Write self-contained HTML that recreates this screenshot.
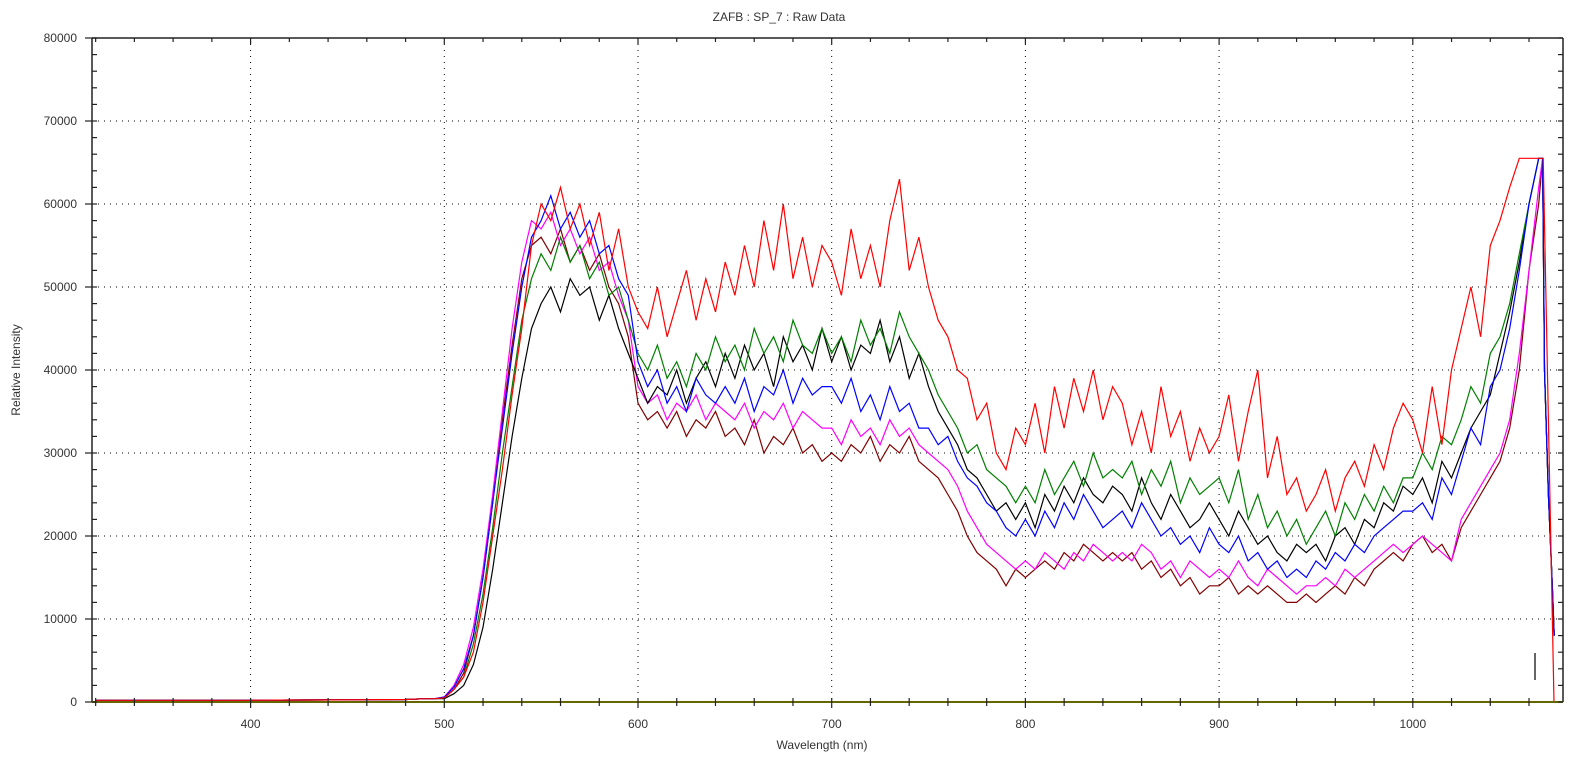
<!DOCTYPE html>
<html><head><meta charset="utf-8"><style>
html,body{margin:0;padding:0;background:#fff;}
svg{display:block;font-family:"Liberation Sans",sans-serif;}
</style></head><body>
<svg id="chart" width="1577" height="765" viewBox="0 0 1577 765" xmlns="http://www.w3.org/2000/svg">
<text x="779" y="21" font-size="12" text-anchor="middle" fill="#333">ZAFB : SP_7 : Raw Data</text>
<text x="822" y="749" font-size="12" text-anchor="middle" fill="#333">Wavelength (nm)</text>
<text x="20" y="370" font-size="12" text-anchor="middle" fill="#333" transform="rotate(-90 20 370)">Relative Intensity</text>
<g id="grid"></g>
<g id="series"></g>
<g id="axes"></g>
</svg>
<script>
const xTicks = [400,500,600,700,800,900,1000];
const yTicks = [0,10000,20000,30000,40000,50000,60000,70000,80000];
const baseW = [320,400,480,490,495];
const baseV = [0.2,0.2,0.3,0.4,0.4];
const red = [0.5,1.5,3,6,12,20,28,37,45,55, 60,58,62,57,60,55,59,52,57,50, 47,45,50,44,48,52,46,51,47,53, 49,55,50,58,52,60,51,56,50,55, 53,49,57,51,55,50,58,63,52,56, 50,46,44,40,39,34,36,30,28,33, 31,36,30,38,33,39,35,40,34,38, 36,31,35,30,38,32,35,29,33,30, 32,37,29,35,40,27,32,25,27,23, 25,28,23,27,29,26,31,28,33,36, 34,30,38,31,40,45,50,44,55,58, 62,65.5,65.5,65.5];
const black = [0.4,1,2,4.5,9,16,24,32,39,45, 48,50,47,51,49,50,46,49,45,42, 39,36,38,37,40,36,39,41,38,42, 39,43,40,42,38,44,41,43,40,45, 41,44,40,43,42,46,41,44,39,42, 38,35,33,31,28,27,25,23,24,22, 24,21,25,23,26,24,27,25,24,26, 25,23,27,24,22,25,23,21,22,24, 22,20,23,21,19,20,18,17,19,18, 19,17,20,21,19,22,21,24,23,26, 25,27,24,29,27,30,33,35,37,42, 47,53,60,65.5];
const green = [0.5,1.5,3,7,13,21,30,38,46,51, 54,52,56,53,55,51,53,49,50,46, 42,40,43,39,41,38,42,40,44,41, 43,40,45,42,44,41,46,43,42,45, 42,44,41,46,43,45,42,47,44,42, 40,37,35,33,30,31,28,27,26,24, 26,24,28,25,27,29,26,30,27,28, 27,29,25,28,26,29,24,27,25,26, 27,24,28,22,25,21,23,20,22,19, 21,23,20,24,22,25,23,26,24,27, 27,30,28,32,31,34,38,36,42,44, 48,54,60,65.5];
const blue = [0.6,1.8,4,8,15,24,33,42,50,56, 58,61,57,59,56,58,54,55,51,49, 41,38,40,36,38,35,39,37,36,38, 36,39,35,38,37,40,36,39,37,38, 38,36,39,35,37,34,38,35,36,33, 33,31,32,29,27,26,24,23,21,20, 22,20,23,21,24,22,25,23,21,22, 23,21,24,22,20,21,19,20,18,21, 19,18,20,17,18,16,17,15,16,15, 17,16,18,17,19,18,20,21,22,23, 23,24,22,27,25,29,33,31,38,40, 45,52,60,65.5];
const magenta = [0.6,2,4.5,9,16,25,35,45,53,58, 57,59,55,57,54,56,52,53,49,46, 38,36,37,34,36,35,37,34,36,35, 34,36,33,35,34,36,33,35,34,33, 33,31,34,32,33,31,34,32,33,31, 30,29,28,26,23,21,19,18,17,16, 17,16,18,17,16,18,17,19,18,17, 18,17,19,18,16,17,15,17,16,15, 16,15,17,15,14,16,15,14,13,14, 14,15,14,16,15,16,17,18,19,18, 19,20,19,18,17,22,24,26,28,30, 34,42,52,62];
const maroon = [0.5,1.5,3.5,8,15,24,34,43,51,55, 56,54,57,53,55,52,54,50,48,44, 36,34,35,33,35,32,34,33,35,32, 33,31,34,30,32,31,33,30,31,29, 30,29,31,30,32,29,31,30,32,29, 28,27,25,23,20,18,17,16,14,16, 15,16,17,16,18,17,19,18,17,18, 17,18,16,17,15,16,14,15,13,14, 14,15,13,14,13,14,13,12,12,13, 12,13,14,13,15,14,16,17,18,17, 19,20,18,19,17,21,23,25,27,29, 33,40,52,60];
const tailW = [1067,1068,1070,1072,1073];
const tailV = [65.5,40,25,14,8];
const redTailW = [1067.3,1072.9,1077];
const redTailV = [65.5,0,0];

const X0=92, X1=1563, Y0=702, Y1=38;
function sx(w){ return 444.3 + (w-500)*1.937; }
function sy(v){ return Y0 - v*8.3; }
const NS='http://www.w3.org/2000/svg';
function mk(tag, parent){ const e=document.createElementNS(NS,tag); parent.appendChild(e); return e; }
const grid=document.getElementById('grid'), axes=document.getElementById('axes'), ser=document.getElementById('series');

xTicks.forEach(t=>{
  const l=mk('line',grid);
  
  
  l.setAttribute('x1',sx(t));l.setAttribute('x2',sx(t));l.setAttribute('y1',Y1);l.setAttribute('y2',Y0);
  l.setAttribute('stroke','#000');l.setAttribute('stroke-dasharray','1 5');
  const tx=mk('text',axes);
  
  
  tx.setAttribute('x',sx(t));tx.setAttribute('y',728);tx.setAttribute('font-size','12');tx.setAttribute('text-anchor','middle');tx.setAttribute('fill','#333');
  tx.textContent=t;
});
yTicks.forEach(t=>{
  if(t>0&&t<80000){
    const l=mk('line',grid);
    
    
    l.setAttribute('x1',X0);l.setAttribute('x2',X1);l.setAttribute('y1',sy(t/1000));l.setAttribute('y2',sy(t/1000));
    l.setAttribute('stroke','#000');l.setAttribute('stroke-dasharray','1 5');
  }
  const tx=mk('text',axes);
  
  
  tx.setAttribute('x',77);tx.setAttribute('y',sy(t/1000)+4);tx.setAttribute('font-size','12');tx.setAttribute('text-anchor','end');tx.setAttribute('fill','#333');
  tx.textContent=t;
});

function series(ws, vs, color, name){
  const p=mk('polyline',ser);
  
  
  p.setAttribute('points', ws.map((w,i)=>sx(w).toFixed(1)+','+sy(vs[i]).toFixed(1)).join(' '));
  p.setAttribute('fill','none');p.setAttribute('stroke',color);p.setAttribute('stroke-width','1.2');
}
const mainW = red.map((_,i)=>500+5*i);
const list=[[maroon,'#800000','series-maroon'],[magenta,'#ff00ff','series-magenta'],[black,'#000000','series-black'],[green,'#008000','series-green'],[blue,'#0000ff','series-blue']];
list.forEach(([arr,c,n])=>series(baseW.concat(mainW,tailW), baseV.concat(arr,tailV), c, n));
series(baseW.concat(mainW,redTailW), baseV.concat(red,redTailV), '#ff0000', 'series-red');

function line(x1,y1,x2,y2,c,w,name){
  const l=mk('line',axes);
  
  
  l.setAttribute('x1',x1);l.setAttribute('y1',y1);l.setAttribute('x2',x2);l.setAttribute('y2',y2);
  l.setAttribute('stroke',c);l.setAttribute('stroke-width',w);
}
line(X0,Y1,X1,Y1,'#222',1.5,'top-axis');
line(X0,Y1,X0,Y0,'#222',1.5,'left-axis');
line(X1,Y1,X1,Y0,'#222',1.5,'right-axis');
line(X0,Y0,X1,Y0,'#666600',2,'bottom-axis');
line(1535,653,1535,680,'#000',1.2,'marker-bar');
for(let w=320; w<=1076; w+=20){
  const major = w%100===0;
  line(sx(w),Y0-4,sx(w),Y0+(major?6:4),'#222',1.2,'x-tick');
  line(sx(w),Y1,sx(w),Y1+(major?6:4),'#222',1.2,'top-tick');
}
for(let v=0; v<=80; v+=2){
  const major = v%10===0;
  line(major?X0-7:X0,sy(v),X0+5,sy(v),'#222',1.2,'y-tick');
  line(X1-5,sy(v),X1,sy(v),'#222',1.2,'right-tick');
}
</script>
</body></html>
